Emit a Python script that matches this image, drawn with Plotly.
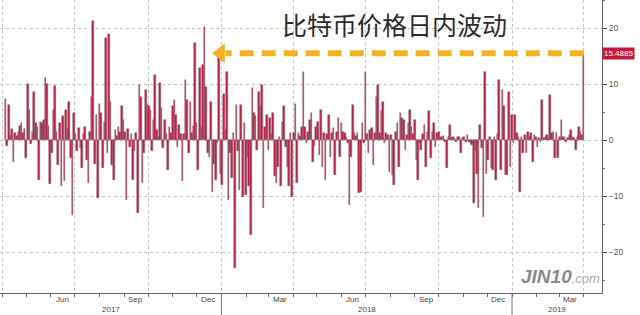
import pandas as pd
import plotly.graph_objects as go

start_date = "2017-04-05"
values = [
    7.4, -1.0, 6.3, 0.8, 2.0, -3.9, 1.2, 0.8, 1.5, 2.5,
    3.0, 1.2, 2.0, -3.3, 10.0, 5.4, -0.8, 1.5, 8.5, 3.0,
    2.4, -7.1, 3.2, 3.0, 3.5, 11.0, 10.0, 2.5, -7.9, -2.4,
    5.4, 9.6, 1.5, -4.5, 3.0, -8.3, 4.2, -7.4, 5.4, 2.0,
    6.8, -3.3, -13.4, 4.8, 1.0, -2.0, 2.1, -1.5, -5.0, 1.0,
    2.4, -3.6, -7.7, 1.5, 7.7, 21.3, -4.2, 4.5, -10.4, 6.5,
    4.8, -5.0, 3.3, 18.2, -2.4, 19.0, 6.8, -4.5, -7.1, 1.8,
    0.8, 2.4, 1.5, 6.0, 3.6, 1.5, -10.7, 2.0, -1.2, 1.0,
    -7.1, -2.0, 1.2, -13.1, 9.8, 7.7, -7.7, -2.4, 9.0, 6.3,
    6.0, 5.4, -2.0, 3.6, 11.6, 1.8, 0.6, 10.2, 5.7, -1.5,
    3.6, 1.0, -5.4, 2.4, 1.2, 6.0, 7.1, 4.5, -1.2, 2.7,
    1.0, -7.4, 1.0, 10.7, 7.1, -2.4, 6.8, 1.2, 2.5, 17.3,
    3.0, -5.4, 12.8, 2.4, 13.4, 20.2, 9.5, -2.4, -3.0, 6.8,
    -9.2, -4.2, -7.1, -0.5, 15.5, -6.0, -8.0, 8.3, 1.8, 12.2,
    -10.7, -2.4, -6.8, 1.2, -22.9, 6.3, -2.0, -8.9, 6.3, -10.1,
    3.0, -9.8, -3.0, -8.3, -17.0, 9.2, 4.8, 4.2, -1.8, 8.6,
    6.0, 9.8, -12.2, 2.4, 4.5, -1.8, 3.9, 1.0, 4.8, -6.5,
    -7.7, -4.8, 0.6, -8.3, 3.3, 6.0, -1.2, -4.8, -8.3, 1.2,
    -10.1, 1.2, 6.5, -7.7, 1.2, 0.8, 2.4, 12.2, 2.4, -0.6,
    1.5, 3.6, 4.8, -3.9, -1.0, 2.4, 3.3, -2.7, 5.4, -4.8,
    1.2, -7.1, 1.0, 4.5, -3.0, 1.2, 2.1, -6.2, 1.5, 3.9,
    -3.0, 3.0, 1.5, 1.2, 0.5, -0.6, -11.6, -3.0, 6.3, 1.2,
    0.8, 1.2, -9.5, -9.2, 3.0, -0.6, 12.2, 1.0, -2.4, 1.8,
    2.1, -4.5, 1.2, 7.7, 9.8, 1.2, 5.1, 6.8, -0.6, 1.2,
    0.9, -5.7, 0.9, -6.2, -8.0, 1.5, 3.0, -4.8, 4.8, 3.9,
    3.6, -1.8, 0.9, 3.0, 5.4, 2.4, 1.0, 3.6, -3.6, -7.1,
    -0.6, -1.8, 1.0, 2.7, -4.8, 1.5, 5.1, -3.3, 1.5, 3.0,
    -1.2, 1.2, 1.5, 0.6, 0.5, 0.8, -0.4, -5.0, 0.5, 2.7,
    0.4, 0.6, 0.3, -0.3, 0.6, 0.6, -2.4, 0.3, 0.6, -0.3,
    0.9, -0.4, -0.6, -0.9, -11.3, -2.0, -6.0, -12.2, 2.7, -1.5,
    -13.7, 12.2, -6.0, -3.6, 0.6, -5.0, -5.4, 0.6, -7.1, 1.0,
    10.7, -5.4, 9.0, 6.0, -6.2, -6.2, 8.6, -4.8, 4.5, -0.6,
    4.5, 1.2, 0.5, -9.2, 0.6, -2.4, 0.9, -2.4, 1.5, 0.5,
    1.2, -3.9, 0.9, 0.6, -1.2, 0.3, -0.3, 7.1, 0.3, 0.6,
    0.9, 0.4, 8.0, 1.2, 1.5, -3.3, 1.2, -3.3, 0.5, 3.6,
    0.6, 0.6, -0.4, 0.3, 0.9, 1.8, 0.6, 0.3, -1.8, 0.6,
    2.4, 1.5, 0.9, 15.4885,
]
dates = pd.date_range(start_date, periods=len(values), freq="2D")

x_range = ["2017-03-29", "2019-04-24"]
y_ticks = [-20, -10, 0, 10, 20]
quarter_starts = ["2017-04-01", "2017-07-01", "2017-10-01", "2018-01-01",
                  "2018-04-01", "2018-07-01", "2018-10-01", "2019-01-01", "2019-04-01"]
month_labels = ["Jun", "Sep", "Dec", "Mar", "Jun", "Sep", "Dec", "Mar"]
month_label_dates = ["2017-06-15", "2017-09-15", "2017-12-15", "2018-03-15",
                     "2018-06-15", "2018-09-15", "2018-12-15", "2019-03-15"]
year_labels = ["2017", "2018", "2019"]
year_bounds = ["2018-01-01", "2019-01-01"]
title_text = "比特币价格日内波动"
arrow_tip_date = "2017-12-31"
last_label = "15.4885"

fig = go.Figure()
fig.add_trace(go.Bar(
    x=dates, y=values, width=2 * 86400000,
    marker=dict(color="#bb1d40", line=dict(color="#8d6570", width=0.5)),
    showlegend=False, hoverinfo="x+y",
))

last_date = dates[-1]
last_val = values[-1]
# dashed yellow arrow pointing left at the level of the last value
fig.add_shape(type="line", xref="x", yref="y", x0=last_date, x1="2018-01-06",
              y0=last_val, y1=last_val, layer="above",
              line=dict(color="#f0b226", width=6, dash="14px,8px"))
fig.add_trace(go.Scatter(
    x=[arrow_tip_date], y=[last_val], mode="markers",
    marker=dict(symbol="triangle-left", size=17, color="#f0b226"),
    showlegend=False, hoverinfo="skip",
))

# year separators below the axis
for b in year_bounds:
    fig.add_shape(type="line", xref="x", yref="paper", x0=b, x1=b, y0=0, y1=-0.08,
                  line=dict(color="#777", width=1))

ann = []
for d, t in zip(month_label_dates, month_labels):
    ann.append(dict(x=d, y=0, xref="x", yref="paper", text=t, showarrow=False,
                    yanchor="top", yshift=0, font=dict(size=8, color="#444",
                    family="Liberation Sans")))
lo = pd.Timestamp(x_range[0]); hi = pd.Timestamp(x_range[1])
edges = [lo] + [pd.Timestamp(b) for b in year_bounds] + [hi]
for i, t in enumerate(year_labels):
    mid = edges[i] + (edges[i + 1] - edges[i]) / 2
    ann.append(dict(x=mid, y=0, xref="x", yref="paper", text=t, showarrow=False,
                    yanchor="top", yshift=-10, font=dict(size=8, color="#444",
                    family="Liberation Sans")))
ann.append(dict(x=0.656, y=0.985, xref="paper", yref="paper", text=title_text,
                showarrow=False, yanchor="top",
                font=dict(size=25, color="#2b2b2b", family="Noto Sans CJK SC")))
ann.append(dict(x=1, y=last_val, xref="paper", yref="y", text=last_label,
                showarrow=False, xanchor="left", xshift=0,
                bgcolor="#c8173a", borderpad=1,
                font=dict(size=8, color="white", family="Liberation Sans")))
ann.append(dict(x=0.862, y=0.015, xref="paper", yref="paper", xanchor="left",
                yanchor="bottom",
                text="<b><i>JIN10</i></b><i><span style='font-size:13px;color:#a8a8a8'>.com</span></i>",
                showarrow=False, font=dict(size=19, color="#8a8a8a",
                family="Liberation Sans")))

fig.update_layout(
    width=640, height=315,
    margin=dict(l=0, r=38, t=0, b=22),
    paper_bgcolor="white", plot_bgcolor="white",
    bargap=0,
    annotations=ann,
    xaxis=dict(
        type="date", range=x_range,
        tickvals=quarter_starts, showticklabels=False, ticks="",
        showgrid=True, gridcolor="#c4c4c4", griddash="dot", gridwidth=1,
        showline=True, linecolor="#666", linewidth=1,
        minor=dict(dtick="M1", ticks="outside", ticklen=3, tickcolor="#666",
                   showgrid=False),
        zeroline=False,
    ),
    yaxis=dict(
        side="right", range=[-27.32, 25], tickvals=y_ticks,
        ticks="outside", ticklen=4, tickcolor="#444",
        showgrid=True, gridcolor="#c4c4c4", griddash="dot", gridwidth=1,
        showline=True, linecolor="#666", linewidth=1,
        zeroline=False,
        minor=dict(dtick=5, ticks="outside", ticklen=2, tickcolor="#777", showgrid=False),
        tickfont=dict(size=8.5, color="#555", family="Liberation Sans"),
    ),
)

fig.write_html("out.html")
